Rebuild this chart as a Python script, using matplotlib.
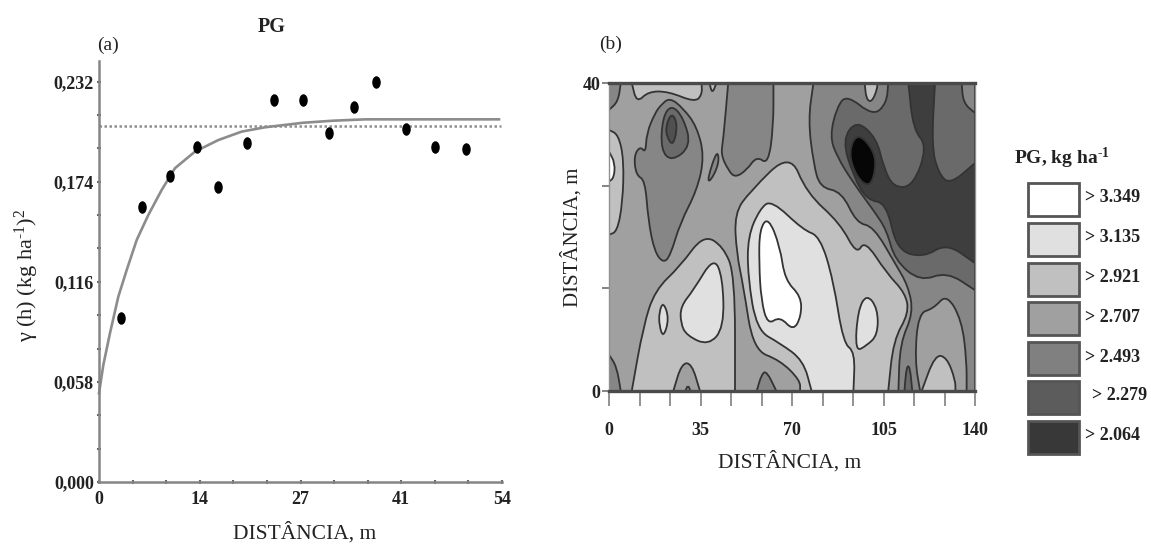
import numpy as np
from matplotlib import pyplot as plt
from matplotlib.patches import PathPatch, Rectangle
from matplotlib.path import Path
from matplotlib.transforms import Affine2D

# variogram (a)
lag = [2.9, 5.7, 9.5, 13.1, 16.0, 19.8, 23.4, 27.3, 30.8, 34.2, 37.1, 41.2, 45.0, 49.2]
semivariance = [0.0948, 0.1593, 0.1775, 0.1943, 0.1707, 0.1962, 0.2213, 0.2213, 0.2024, 0.2174, 0.2316, 0.2045, 0.1943, 0.1929]
model_lag = [0, 0.58, 1.47, 2.59, 3.71, 5.05, 6.61, 8.4, 10.18, 12.86, 15.99, 19.12, 22.24, 27.3, 31.3, 35.7, 53.6]
model_gamma = [0.0514, 0.0678, 0.0862, 0.1074, 0.1228, 0.1402, 0.1547, 0.1692, 0.1818, 0.1914, 0.1981, 0.2030, 0.2055, 0.2081, 0.2093, 0.2101, 0.2101]
sill = 0.2063
sill_end = 53.8

y_ticks = [0.0, 0.058, 0.116, 0.174, 0.232]
y_labels = ["0,000", "0,058", "0,116", "0,174", "0,232"]
x_ticks = [0, 13.5, 27, 40.5, 54]
x_labels = ["0", "14", "27", "41", "54"]

# legend of the map (b)
legend_values = ["> 3.349", "> 3.135", "> 2.921", "> 2.707", "> 2.493", "> 2.279", "> 2.064"]
legend_greys = ["#ffffff", "#e0e0e0", "#c0c0c0", "#a0a0a0", "#808080", "#5c5c5c", "#383838"]
BLACK = "#060606"
C7, C6, C5, C4 = legend_greys[:4]
C3, C2, C1 = "#868686", "#6a6a6a", "#3e3e3e"
INNER = "#505050"

# map outlines, (distance m, distance m)
corner_tl = [(0, 36.5), (3.5, 37.6), (4.5, 40), (0, 40)]
corner_bl = [(0, 4.7), (2.9, 3.2), (4.5, 0), (0, 0)]
blob_left = [(17.6, 36.1), (20, 37.2), (23.3, 38.1), (28.4, 36.7), (33.5, 34.4), (36.5, 30.5), (33.7, 26.1),
             (27.2, 21.8), (23.5, 17.6), (20.8, 16.6), (17.4, 18.1), (15, 22.2), (13.8, 27.4), (10.4, 28),
             (9.5, 30.5), (11.9, 31.8), (14, 30.9), (14.4, 33.5)]
column_top = [(45.6, 40), (43.7, 32.6), (42.8, 30.7), (45.6, 28.7), (48.2, 27.7), (52.7, 28.7), (56.5, 30.5),
              (60.9, 29.4), (62.9, 34.4), (62.9, 40)]
sliver = [(37.6, 27.5), (41.4, 31.4), (42.2, 29.6), (38.8, 27.2)]
right_3 = [(78.2, 40), (76.2, 35.2), (78.2, 29.6), (80.7, 26.4), (89, 25.9), (94.7, 21.8), (101.1, 21.4),
           (109.4, 16.6), (114.5, 13.6), (116.4, 10.1), (111.3, 6.2), (110.7, 0), (119, 0), (117, 4),
           (118.3, 10.1), (124.1, 10.7), (129.2, 12.6), (134.9, 9.2), (136.8, 4), (136.8, 0), (140, 0), (140, 40)]
right_2 = [(106.8, 40), (106.2, 37.4), (101.1, 35.7), (90.9, 38.5), (87.1, 36.8), (84.5, 33.1), (87.1, 30.5),
           (93.5, 27), (101.1, 23.5), (106.2, 20.9), (109.3, 17), (119, 14.2), (129.2, 15.5), (140, 13.1),
           (140, 36.1), (135.5, 37.4), (134.9, 40)]
right_1 = [(114.5, 40), (116.4, 33.9), (121.8, 31.8), (116.4, 26.6), (108.8, 26.4), (104.9, 29.2), (102.4, 32.8),
           (94.7, 35.2), (89.2, 32.6), (93.5, 27.9), (98.6, 24.8), (106.2, 24.4), (110, 18.3), (120.2, 17.3),
           (129.2, 19.2), (140, 16.6), (140, 29.6), (130.4, 26.8), (126, 28.3), (123.4, 31.8), (124.7, 40)]
core_black = [(91.6, 31), (95, 33.6), (101.5, 31.2), (102, 28.6), (99.5, 26.4), (94.5, 27.9)]
ring_left = [(19.8, 31.3), (20.5, 35.6), (24, 37.2), (28.6, 35.4), (31.4, 31.8), (24, 29.8)]
core_left = [(21.7, 34.4), (24, 36.2), (26.3, 34.6), (24.6, 31.8), (22.2, 32.9)]
spot_top = [(97.8, 40), (98.4, 37.9), (100.5, 37.5), (102.6, 39.2), (102.6, 40)]
strip_top = [(8.7, 40), (10.6, 37.4), (15, 38.9), (22.7, 38.9), (32.9, 37.5), (35.6, 38.5), (35.4, 40)]
tip_top = [(38.4, 40), (39.5, 38.6), (41.1, 40)]
edge_left = [(0, 33.9), (3.6, 33.3), (5.7, 30), (5.2, 24.4), (3.1, 20.7), (0, 20.3)]
edge_left_core = [(0, 31.1), (2.3, 29.6), (1.9, 27.7), (0, 27.2)]
lower_5 = [(8.7, 0), (13.1, 8.4), (17.6, 13.1), (27.2, 16.2), (36.1, 20.3), (43.7, 18.8), (48.2, 15), (48.2, 0)]
lower_6 = [(27.4, 11), (32.3, 13.1), (40, 17.4), (43.5, 14.8), (44, 8.2), (38, 5.9), (29.7, 7.2), (27.4, 8.8)]
lower_6_small = [(19.2, 10.3), (20.8, 11.6), (23, 9.4), (20.8, 6.9), (19.2, 8.5)]
centre_5 = [(73.1, 0), (73.1, 1.4), (65.4, 4), (55.2, 5.3), (51.4, 13.6), (48.8, 17.9), (48.0, 23.1), (53.9, 25.9),
            (69.2, 31), (75.6, 25.7), (88.4, 21.8), (94.7, 17.7), (97.9, 19.6), (106.2, 15.3), (113.4, 12.7),
            (114.7, 10.1), (108.8, 6.6), (106.8, 0)]
centre_6 = [(53.1, 20.1), (57.8, 23.7), (62.2, 24.8), (74.3, 20.9), (80.7, 20.1), (85.8, 14.4), (89.6, 6.2),
            (94.1, 5.1), (93.5, 0), (77.5, 0), (74.3, 4), (65.4, 6.2), (56.5, 7.9), (53.1, 14.9)]
centre_7 = [(57.6, 21), (60.9, 22.6), (65.4, 18.8), (67.3, 14.4), (73.5, 12.3), (73.5, 9.7), (70.5, 7.8),
            (65.4, 9.7), (60.7, 8.6), (58.2, 11.8), (57.4, 16.6)]
right_6 = [(94.1, 5.1), (95.2, 10.5), (98.6, 12.6), (102.8, 10.7), (102.8, 7.3), (98.6, 5.9)]
hump_4 = [(24.6, 0), (27.8, 3.6), (31.6, 3.6), (34.8, 0)]
hump_3 = [(29.2, 0), (30.2, 0.8), (31.2, 0)]
hump_centre = [(56.5, 0), (58.4, 2.2), (60.3, 2.6), (64, 0)]
hump_right = [(119.6, 0), (124.7, 4.7), (129.2, 4.4), (132.5, 1.4), (132.5, 0)]
needle = [(113.0, 0), (113.8, 3.2), (115.1, 3.2), (116.0, 0)]

regions = [
    (corner_tl, C3), (corner_bl, C3), (blob_left, C3), (column_top, C3), (sliver, C3), (right_3, C3),
    (right_2, C2), (right_1, C1), (core_black, BLACK), (ring_left, C2), (core_left, INNER), (spot_top, C5),
    (strip_top, C5), (tip_top, C5), (edge_left, C5), (edge_left_core, C7), (lower_5, C5), (lower_6, C6),
    (lower_6_small, C6), (centre_5, C5), (centre_6, C6), (centre_7, C7), (right_6, C6), (hump_4, C4),
    (hump_3, C3), (hump_centre, C3), (hump_right, C5), (needle, C2),
]

W, H = 1151, 544
plt.rcParams["font.family"] = ["Liberation Serif", "DejaVu Serif"]
plt.rcParams["mathtext.fontset"] = "custom"
plt.rcParams["mathtext.rm"] = "Liberation Serif"
plt.rcParams["mathtext.bf"] = "Liberation Serif:bold"
plt.rcParams["mathtext.default"] = "regular"


def axes_box(left, top, right, bottom):
    return [left / W, 1 - bottom / H, (right - left) / W, (bottom - top) / H]


def put_text(x, y, s, **kw):
    kw.setdefault("ha", "center")
    kw.setdefault("va", "center")
    kw.setdefault("color", "#222222")
    return fig.text(x / W, 1 - y / H, s, **kw)


def outline_path(outline):
    # rounded outline through the midpoints, corners on the map border stay sharp
    count = len(outline)
    first = ((outline[-1][0] + outline[0][0]) / 2, (outline[-1][1] + outline[0][1]) / 2)
    verts, codes = [first], [Path.MOVETO]
    for i, point in enumerate(outline):
        follow = outline[(i + 1) % count]
        middle = ((point[0] + follow[0]) / 2, (point[1] + follow[1]) / 2)
        code = Path.LINETO if point[0] in (0, 140) or point[1] in (0, 40) else Path.CURVE3
        verts += [point, middle]
        codes += [code, code]
    verts.append(first)
    codes.append(Path.CLOSEPOLY)
    return Path(verts, codes)


fig = plt.figure(figsize=(W / 100, H / 100), dpi=100)

# (a) semivariogram
ax = fig.add_axes(axes_box(99, 61, 502, 482))
ax.set_xlim(0, 54)
ax.set_ylim(0, 0.2439)
ax.plot([0, sill_end], [sill, sill], color="#8f8f8f", lw=1.8, dashes=(1, 1))
ax.plot(model_lag, model_gamma, color="#8c8c8c", lw=1.9, clip_on=False)
tall_dot = Path.unit_circle().transformed(Affine2D().scale(0.68, 1))
ax.plot(lag, semivariance, linestyle="none", marker=tall_dot, color="black", ms=9, mew=0, clip_on=False)
for side in ["top", "right"]:
    ax.spines[side].set_visible(False)
for side in ["left", "bottom"]:
    ax.spines[side].set_color("#858585")
    ax.spines[side].set_linewidth(1.8)
ax.set_xticks(x_ticks, x_labels, fontsize=13, fontweight="bold", color="#222222")
ax.set_yticks(y_ticks, y_labels, fontsize=13, fontweight="bold", color="#222222")
ax.set_xticks(np.linspace(0, 54, 13), minor=True)
ax.set_yticks(np.linspace(0, 0.232, 13), minor=True)
ax.tick_params(which="both", direction="inout", length=3.5, width=1.5, color="#666666")
ax.tick_params(axis="x", which="major", pad=5)
ax.tick_params(axis="y", which="major", pad=2)
put_text(272, 27, "PG", fontsize=14.5, fontweight="bold")
put_text(108, 45, "(a)", fontsize=14)
put_text(305, 533, "DISTÂNCIA, m", fontsize=15.5)
put_text(27, 275, "γ (h) (kg ha$^{\u20101}$)$^{2}$", fontsize=16, rotation=90)

# (b) map
bx = fig.add_axes(axes_box(609, 83, 975, 391))
bx.set_xlim(0, 140)
bx.set_ylim(0, 40)
bx.set_facecolor(C4)
for outline, grey in regions:
    bx.add_patch(PathPatch(outline_path(outline), facecolor=grey, edgecolor="#333333", lw=1.3))
for side in ["top", "bottom"]:
    bx.spines[side].set_color("#4a4a4a")
    bx.spines[side].set_linewidth(2.4)
for side in ["left", "right"]:
    bx.spines[side].set_color("#909090")
    bx.spines[side].set_linewidth(1.0)
bx.set_xticks([0, 35, 70, 105, 140], ["0", "35", "70", "105", "140"], fontsize=13, fontweight="bold", color="#222222")
bx.set_yticks([0, 40], ["0", "40"], fontsize=13, fontweight="bold", color="#222222")
bx.set_xticks(np.linspace(0, 140, 13), minor=True)
bx.set_yticks(np.linspace(0, 40, 4), minor=True)
bx.tick_params(axis="x", which="both", length=11, width=1.2, color="#808080", pad=11)
bx.tick_params(axis="y", which="both", length=5, width=1.2, color="#707070", pad=1)
put_text(611, 44, "(b)", fontsize=14)
put_text(790, 462, "DISTÂNCIA, m", fontsize=15.5)
put_text(572, 237, "DISTÂNCIA, m", fontsize=15, rotation=90)

# legend
put_text(1014, 158, "PG, kg ha$^{\\mathbf{\u20101}}$", fontsize=14, fontweight="bold", ha="left")
box_tops = [183, 223, 263, 302, 342, 381, 421]
label_lefts = [1085, 1085, 1085, 1085, 1085, 1092, 1085]
for top, left, grey, value in zip(box_tops, label_lefts, legend_greys, legend_values):
    fig.add_artist(Rectangle((1028 / W, 1 - (top + 33) / H), 51 / W, 33 / H, transform=fig.transFigure,
                             facecolor=grey, edgecolor="#555555", lw=2))
    put_text(left, top + 15, value, fontsize=13, fontweight="bold", ha="left")

fig.savefig("out.png", dpi=100)
